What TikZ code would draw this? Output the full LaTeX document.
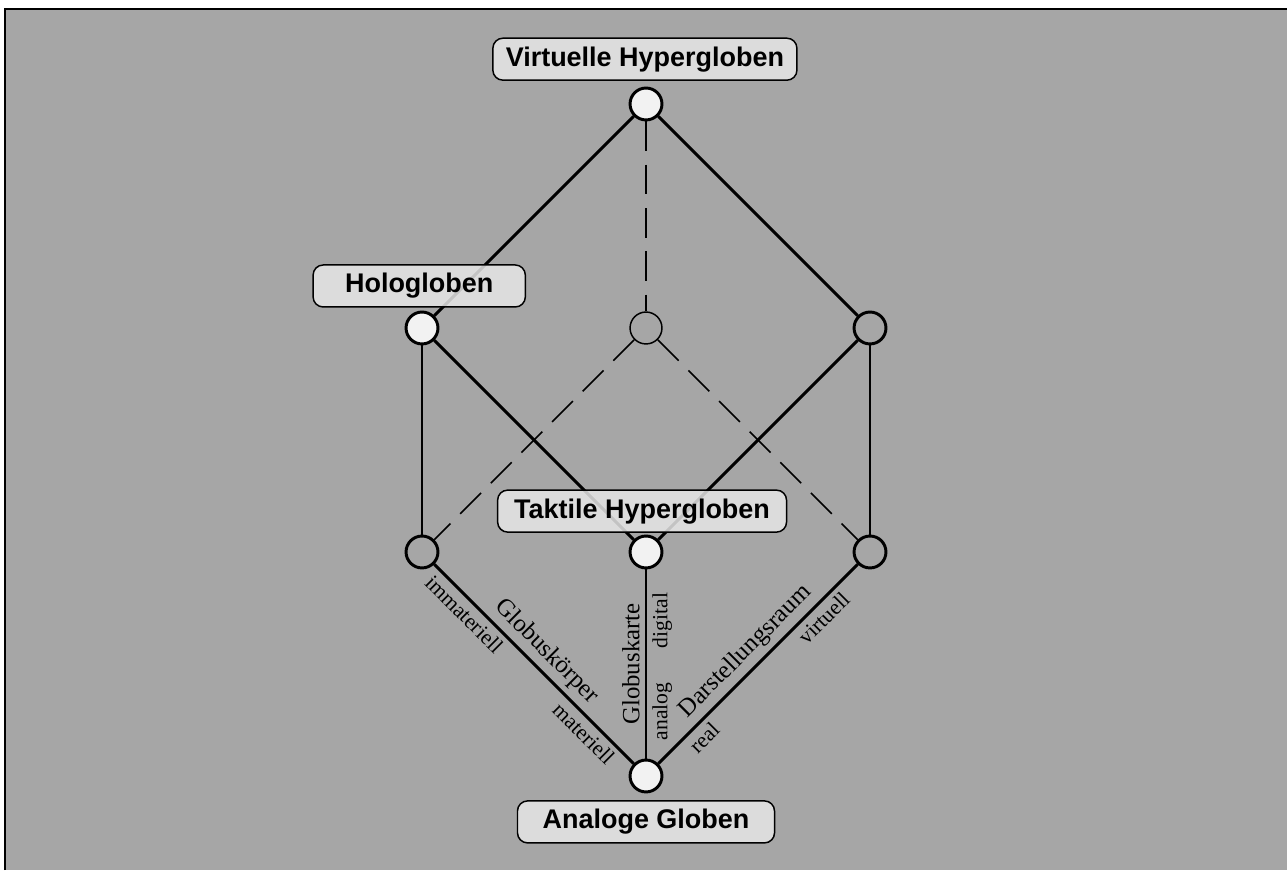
\documentclass[tikz,border=0pt]{standalone}
\usepackage{fontspec}
\setmainfont{Liberation Serif}
\setsansfont{Liberation Sans}

\definecolor{canvas}{HTML}{A6A6A6}
\definecolor{tagfill}{HTML}{E6E6E6}
\definecolor{knotfill}{HTML}{F2F2F2}

\tikzset{
    knot/.style = {circle, draw = black, line width = 1.5pt, fill = knotfill, minimum size = 0.57cm, inner sep = 0pt},
    blank/.style = {knot, fill = canvas},
    ghost/.style = {knot, fill = canvas, line width = 0.75pt},
    edge/.style = {black, line width = 1.5pt},
    hidden/.style = {black, line width = 0.75pt, dash pattern = on 15pt off 7pt},
    tag/.style = {draw = black, line width = 0.75pt, fill = tagfill, fill opacity = 0.85, text opacity = 1,
                  rounded corners = 0.18cm, minimum height = 0.75cm, inner sep = 0pt,
                  font = \sffamily\bfseries\fontsize{13.7}{16}\selectfont},
    axis/.style = {sloped, inner sep = 2.5pt, font = \fontsize{12.6}{14}\selectfont},
    pole/.style = {sloped, inner sep = 2.5pt, font = \fontsize{11}{13}\selectfont}
}

\begin{document}
\begin{tikzpicture}
    \useasboundingbox (-11.536, -1.679) rectangle (11.446, 13.857);
    \fill[canvas] (-11.446, -1.679) rectangle (11.446, 13.696);
    \draw[black, line width = 1pt] (-11.446, -1.679) -- (-11.446, 13.696) -- (11.446, 13.696);

    % corners of the cube
    \node[knot] (virt) at (0, 12) {};
    \node[knot] (holo) at (-4, 8) {};
    \node[ghost] (back) at (0, 8) {};
    \node[blank] (rtop) at (4, 8) {};
    \node[blank] (lbot) at (-4, 4) {};
    \node[knot] (takt) at (0, 4) {};
    \node[blank] (rbot) at (4, 4) {};
    \node[knot] (anal) at (0, 0) {};

    % hidden edges
    \draw[hidden] (virt) -- (back);
    \draw[hidden] (back) -- (lbot);
    \draw[hidden] (back) -- (rbot);

    % visible edges
    \draw[edge] (virt) -- (holo);
    \draw[edge] (virt) -- (rtop);
    \draw[edge] (holo) -- (lbot);
    \draw[edge] (holo) -- (takt);
    \draw[edge] (rtop) -- (takt);
    \draw[edge] (rtop) -- (rbot);
    \draw[edge] (lbot) -- (anal)
        node[pole, pos = 0.2, below] {immateriell}
        node[axis, pos = 0.5, above] {Globuskörper}
        node[pole, pos = 0.8, below] {materiell};
    \draw[edge] (anal) -- (takt)
        node[pole, pos = 0.25, below] {analog}
        node[axis, pos = 0.5, above] {Globuskarte}
        node[pole, pos = 0.73, below] {digital};
    \draw[edge] (anal) -- (rbot)
        node[pole, pos = 0.18, below] {real}
        node[axis, pos = 0.5, above] {Darstellungsraum}
        node[pole, pos = 0.78, below] {virtuell};

    % names of the globe types
    \node[tag, minimum width = 5.43cm] (tvirt) at (-0.02, 12.80) {Virtuelle Hypergloben};
    \node[tag, minimum width = 3.79cm] (tholo) at (-4.05, 8.75) {Hologloben};
    \node[tag, minimum width = 5.16cm] (ttakt) at (-0.07, 4.73) {Taktile Hypergloben};
    \node[tag, minimum width = 4.59cm] (tanal) at (0, -0.82) {Analoge Globen};
\end{tikzpicture}
\end{document}
